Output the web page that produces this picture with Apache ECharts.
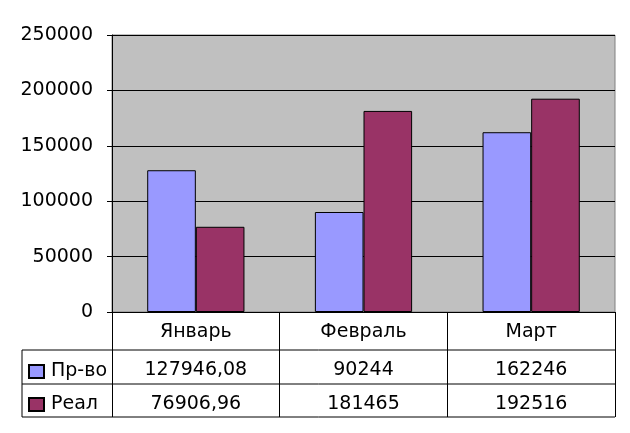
<!DOCTYPE html>
<html><head><meta charset="utf-8">
<script src="https://cdn.jsdelivr.net/npm/echarts@6/dist/echarts.min.js"></script>
<style>html,body{margin:0;padding:0;background:#fff}#c{width:630px;height:433px}</style>
</head><body><div id="c"></div>
<script>
const categories = ['Январь', 'Февраль', 'Март'];
const seriesNames = ['Пр-во', 'Реал'];
const prVo = [127946.08, 90244, 162246];
const real = [76906.96, 181465, 192516];
const prVoLabels = ['127946,08', '90244', '162246'];
const realLabels = ['76906,96', '181465', '192516'];
const yTicks = [0, 50000, 100000, 150000, 200000, 250000];

const FONT = 'DejaVu Sans';
const chart = echarts.init(document.getElementById('c'), null, {renderer: 'canvas'});
const L = 112, R = 615, T = 35, B = 312;
const line = (x1, y1, x2, y2) => ({type: 'line', shape: {x1, y1, x2, y2}, style: {stroke: '#000', lineWidth: 1}, z: 10});
chart.setOption({
  animation: false,
  grid: {left: L, right: 630 - R, top: T, bottom: 433 - B, show: true, backgroundColor: '#C0C0C0', borderColor: '#808080', borderWidth: 1},
  legend: {
    orient: 'vertical', left: 28, top: 362, padding: 0, itemWidth: 15, itemHeight: 13, itemGap: 14,
    icon: 'rect', data: seriesNames,
    textStyle: {fontFamily: FONT, fontSize: 19, color: '#000', padding: [0, 0, 0, 2]}
  },
  xAxis: [
    {type: 'category', data: categories, position: 'bottom',
     axisLine: {lineStyle: {color: '#000', width: 1}},
     axisTick: {show: true, length: 105, lineStyle: {color: '#000'}},
     axisLabel: {fontFamily: FONT, fontSize: 19, color: '#000', margin: 20, verticalAlign: 'middle'}},
    {type: 'category', data: categories, position: 'bottom',
     axisLine: {show: false}, axisTick: {show: false},
     axisLabel: {fontFamily: FONT, fontSize: 19, color: '#000', margin: 58, verticalAlign: 'middle', formatter: (v, i) => prVoLabels[i]}},
    {type: 'category', data: categories, position: 'bottom',
     axisLine: {show: false}, axisTick: {show: false},
     axisLabel: {fontFamily: FONT, fontSize: 19, color: '#000', margin: 92, verticalAlign: 'middle', formatter: (v, i) => realLabels[i]}}
  ],
  yAxis: {
    type: 'value', min: yTicks[0], max: yTicks[yTicks.length - 1], interval: yTicks[1] - yTicks[0],
    axisLine: {show: true, lineStyle: {color: '#000', width: 1}},
    axisTick: {show: true, inside: false, length: 5, lineStyle: {color: '#000'}},
    axisLabel: {fontFamily: FONT, fontSize: 19, color: '#000', margin: 19, formatter: v => String(v)},
    splitLine: {show: true, lineStyle: {color: '#000', width: 1}}
  },
  series: [
    {name: seriesNames[0], type: 'bar', data: prVo, barGap: '0%', barCategoryGap: '42%',
     itemStyle: {color: '#9999FF', borderColor: '#000', borderWidth: 1}},
    {name: seriesNames[1], type: 'bar', data: real, barGap: '0%', barCategoryGap: '42%',
     itemStyle: {color: '#993366', borderColor: '#000', borderWidth: 1}}
  ],
  graphic: [
    line(22, 350, R, 350),
    line(22, 384, R, 384),
    line(22, 417, R, 417),
    line(22, 350, 22, 417)
  ]
});
</script></body></html>
